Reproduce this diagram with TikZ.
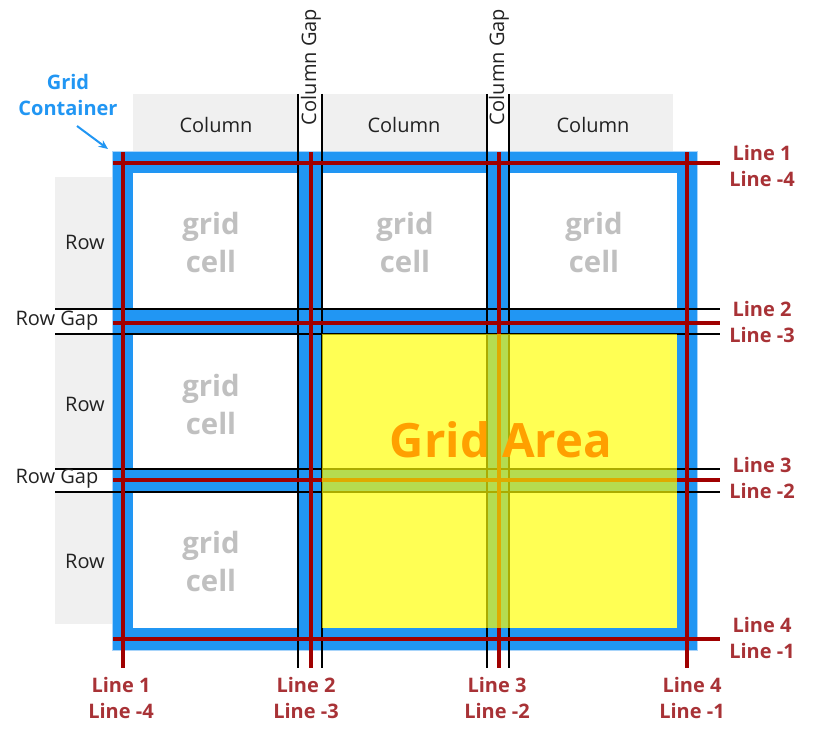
\documentclass[tikz,border=0pt]{standalone}
\usepackage{fontspec}
\setmainfont{Open Sans}
\usetikzlibrary{arrows.meta}
\definecolor{gbg}{HTML}{F0F0F0}
\definecolor{gblue}{HTML}{2196F3}
\definecolor{gblueglow}{HTML}{A8D4FA}
\definecolor{gred}{HTML}{A00000}
\definecolor{glabel}{HTML}{A83236}
\definecolor{gcell}{HTML}{C0C0C0}
\definecolor{gyellow}{HTML}{FFFF00}
\definecolor{gorange}{HTML}{FFA000}
\definecolor{gtext}{HTML}{222222}
\begin{document}
\begin{tikzpicture}[x=0.75pt,y=-0.75pt,
  blk/.style={black,line width=1.5pt},
  redl/.style={gred,line width=3pt},
  lbl/.style={text=glabel,font=\fontsize{15}{19.5}\selectfont\bfseries,align=center,inner sep=0pt},
  hdr/.style={text=gtext,font=\fontsize{15}{18}\selectfont,inner sep=0pt},
  cellt/.style={text=gcell,font=\fontsize{22}{28.5}\selectfont\bfseries,align=center,inner sep=0pt},
  band/.style={fill=gbg}]
\useasboundingbox (0,0) rectangle (821,742);
% gray header bands
\fill[band] (133,94) rectangle (298,152);
\fill[band] (322,94) rectangle (487,152);
\fill[band] (509,94) rectangle (673,152);
\fill[band] (55,177) rectangle (113,309);
\fill[band] (55,334) rectangle (113,469);
\fill[band] (55,492) rectangle (113,624);
% container
\fill[gblueglow] (112.3,151.3) rectangle (697.7,650.7);
\fill[gblue] (113,152) rectangle (697,650);
% cells
\foreach \xa/\xb in {133/298,322/487,509/677}{
  \foreach \ya/\yb in {173/309,334/469,492/628}{
    \fill[white] (\xa,\ya) rectangle (\xb,\yb);
  }
}
% black gap lines
\foreach \x in {298,322,487,509}{
  \draw[blk] (\x,94) -- (\x,668);
}
\foreach \y in {309,334,469,492}{
  \draw[blk] (55,\y) -- (720,\y);
}
% red grid lines
\foreach \x in {123,311,499,687}{
  \draw[redl] (\x,152) -- (\x,668);
}
\foreach \y in {163,323,480,639}{
  \draw[redl] (113,\y) -- (720,\y);
}
% grid area overlay
\fill[gyellow,fill opacity=0.67] (322,334) rectangle (677,628);
\node[text=gorange,font=\fontsize{35.5}{40}\selectfont\bfseries,inner sep=0pt] (area) at (501,440) {Grid Area};
% cell texts
\node[cellt] (c11) at (211,242) {grid\\cell};
\node[cellt] (c12) at (405,242) {grid\\cell};
\node[cellt] (c13) at (594,242) {grid\\cell};
\node[cellt] (c21) at (211,404) {grid\\cell};
\node[cellt] (c31) at (211,561) {grid\\cell};
% headers
\node[hdr] (col1) at (216,125) {Column};
\node[hdr] (col2) at (404,125) {Column};
\node[hdr] (col3) at (593,125) {Column};
\node[hdr] (row1) at (85,242) {Row};
\node[hdr] (row2) at (85,404) {Row};
\node[hdr] (row3) at (85,561) {Row};
\node[hdr] (rg1) at (57,321) {Row Gap};
\node[hdr] (rg2) at (57,479) {Row Gap};
\node[hdr,rotate=90] (cg1) at (311,67) {Column Gap};
\node[hdr,rotate=90] (cg2) at (499,67) {Column Gap};
% line labels
\node[lbl] (r1) at (762,166) {Line 1\\Line -4};
\node[lbl] (r2) at (762,321.5) {Line 2\\Line -3};
\node[lbl] (r3) at (762,478) {Line 3\\Line -2};
\node[lbl] (r4) at (762,637.5) {Line 4\\Line -1};
\node[lbl] (b1) at (121,698) {Line 1\\Line -4};
\node[lbl] (b2) at (306,698) {Line 2\\Line -3};
\node[lbl] (b3) at (497,698) {Line 3\\Line -2};
\node[lbl] (b4) at (692,698) {Line 4\\Line -1};
% grid container label
\node[text=gblue,font=\fontsize{15}{19.5}\selectfont\bfseries,align=center,inner sep=0pt] (gc) at (68,95) {Grid\\Container};
\coordinate (gcstart) at (77,126);
\coordinate (gctip) at (108,149);
\draw[gblue,line width=1.5pt,-{Stealth[length=7pt,width=6pt]}] (gcstart) -- (gctip);
\end{tikzpicture}
\end{document}
